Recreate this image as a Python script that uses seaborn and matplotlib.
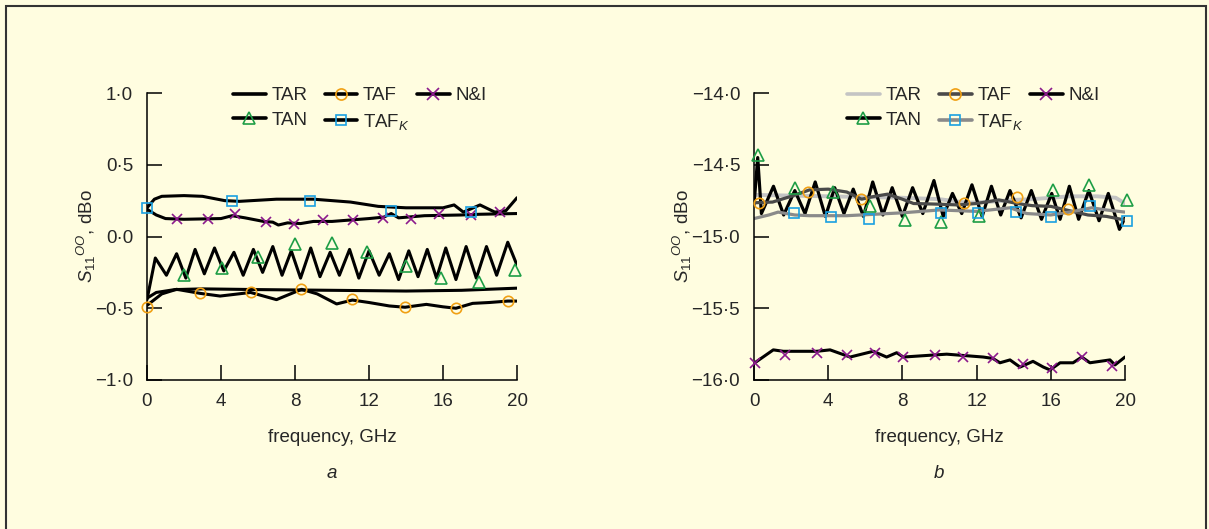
import matplotlib
matplotlib.use("Agg")
import matplotlib.pyplot as plt
from matplotlib.lines import Line2D
from matplotlib.patches import Rectangle
import seaborn as sns

# ---------------- data ----------------
# panel a
a_tar_f = [0, 0.5, 1.5, 3, 6, 10, 14, 17, 20]
a_tar_v = [-0.43, -0.39, -0.37, -0.365, -0.37, -0.375, -0.38, -0.375, -0.36]

a_taf_f = [0, 0.8, 1.6, 2.86, 3.95, 5.6, 7.0, 8.36, 9.2, 10.25, 11.1, 12.0, 13.1, 13.95, 15.1, 16.0, 16.7, 17.6, 18.5, 19.5, 20]
a_taf_v = [-0.48, -0.40, -0.368, -0.396, -0.415, -0.39, -0.44, -0.368, -0.40, -0.47, -0.443, -0.46, -0.484, -0.493, -0.473, -0.49, -0.50, -0.466, -0.46, -0.45, -0.45]
a_taf_mf = [0.02, 2.86, 5.62, 8.34, 11.1, 13.95, 16.7, 19.5]
a_taf_mv = [-0.49, -0.396, -0.389, -0.364, -0.433, -0.493, -0.50, -0.447]

a_ni_f = [0, 0.5, 1, 2, 4, 4.6, 5.3, 6.3, 6.8, 7.1, 7.6, 8.3, 9, 10, 10.5, 12, 12.8, 13.2, 13.6, 15, 17, 18, 20]
a_ni_v = [0.19, 0.15, 0.125, 0.12, 0.125, 0.145, 0.13, 0.105, 0.10, 0.08, 0.095, 0.09, 0.105, 0.105, 0.11, 0.125, 0.135, 0.16, 0.13, 0.145, 0.15, 0.155, 0.16]
a_ni_mf = [1.64, 3.28, 4.76, 6.43, 7.96, 9.53, 11.12, 12.74, 14.25, 15.8, 17.5, 19.08]
a_ni_mv = [0.122, 0.122, 0.157, 0.103, 0.087, 0.115, 0.115, 0.127, 0.122, 0.157, 0.15, 0.173]

a_tan_f = [0, 0.45, 1.05, 1.6, 2.1, 2.6, 3.1, 3.65, 4.15, 4.7, 5.2, 5.75, 6.25, 6.8, 7.3, 7.8, 8.3, 8.85,
           9.35, 9.9, 10.4, 10.95, 11.45, 12.0, 12.55, 13.1, 13.6, 14.15, 14.65, 15.15, 15.65, 16.15, 16.7,
           17.25, 17.8, 18.35, 18.9, 19.5, 20]
a_tan_v = [-0.44, -0.15, -0.27, -0.12, -0.29, -0.09, -0.26, -0.08, -0.24, -0.11, -0.27, -0.09, -0.25, -0.07,
           -0.27, -0.10, -0.29, -0.08, -0.28, -0.11, -0.27, -0.09, -0.29, -0.10, -0.27, -0.12, -0.30, -0.10,
           -0.28, -0.09, -0.29, -0.08, -0.30, -0.07, -0.29, -0.07, -0.27, -0.04, -0.20]
a_tan_mf = [2.0, 4.07, 6.02, 8.0, 9.98, 11.9, 14.0, 15.9, 17.96, 19.9]
a_tan_mv = [-0.268, -0.217, -0.14, -0.054, -0.047, -0.106, -0.203, -0.29, -0.32, -0.233]

a_tafk_f = [0, 0.4, 0.8, 2, 3, 4.2, 5, 7, 9, 11, 12.5, 14, 16, 16.6, 17.1, 18.0, 18.8, 19.4, 20]
a_tafk_v = [0.20, 0.26, 0.28, 0.285, 0.28, 0.25, 0.245, 0.26, 0.26, 0.24, 0.21, 0.20, 0.20, 0.22, 0.17, 0.22, 0.17, 0.18, 0.27]
a_tafk_mf = [0.0, 4.6, 8.8, 13.2, 17.5]
a_tafk_mv = [0.20, 0.25, 0.25, 0.18, 0.17]

# panel b
b_tar_f = [0, 2, 4, 6, 8, 10, 11.5, 12.5, 14, 15, 16, 17, 18.5, 19.5, 20]
b_tar_v = [-14.71, -14.715, -14.72, -14.725, -14.73, -14.74, -14.765, -14.76, -14.745, -14.74, -14.73, -14.72, -14.72, -14.73, -14.77]

b_taf_f = [0, 1, 2, 3, 4, 5, 5.8, 6.5, 7.2, 8, 8.6, 10, 11, 12, 13.2, 14.2, 15, 16, 17, 18, 19, 20]
b_taf_v = [-14.765, -14.76, -14.72, -14.675, -14.67, -14.69, -14.74, -14.72, -14.705, -14.74, -14.77, -14.775,
           -14.78, -14.77, -14.745, -14.77, -14.785, -14.79, -14.82, -14.85, -14.86, -14.885]
b_taf_mf = [0.27, 2.93, 5.77, 11.34, 14.16, 16.94]
b_taf_mv = [-14.77, -14.69, -14.74, -14.764, -14.727, -14.81]

b_ni_f = [0.0, 1.04, 1.58, 3.38, 4.1, 5.18, 6.43, 7.15, 7.69, 8.05, 9.67, 10.39, 12.36, 12.88, 13.26, 13.8,
          14.34, 15.04, 15.6, 15.96, 16.5, 17.2, 17.67, 18.11, 19.19, 19.46, 20.0]
b_ni_v = [-15.884, -15.79, -15.80, -15.80, -15.79, -15.84, -15.80, -15.84, -15.81, -15.84, -15.826, -15.82,
          -15.84, -15.85, -15.88, -15.86, -15.91, -15.87, -15.91, -15.93, -15.88, -15.88, -15.84, -15.88,
          -15.86, -15.895, -15.84]
b_ni_mf = [0.07, 1.69, 3.38, 5.0, 6.52, 8.05, 9.76, 11.28, 12.9, 14.48, 16.05, 17.67, 19.28]
b_ni_mv = [-15.884, -15.826, -15.81, -15.826, -15.81, -15.84, -15.826, -15.84, -15.85, -15.89, -15.918, -15.84, -15.90]

b_tan_f = [0, 0.2, 0.4, 1.05, 1.6, 2.2, 2.75, 3.3, 3.85, 4.35, 4.85, 5.35, 5.9, 6.4, 6.95, 7.45, 8.0, 8.55,
           9.1, 9.7, 10.2, 10.7, 11.2, 11.75, 12.3, 12.8, 13.3, 13.8, 14.4, 14.95, 15.5, 16.05, 16.5, 17.0,
           17.5, 18.05, 18.6, 19.1, 19.7, 20]
b_tan_v = [-14.78, -14.45, -14.84, -14.65, -14.85, -14.68, -14.84, -14.62, -14.86, -14.66, -14.84, -14.67,
           -14.86, -14.62, -14.85, -14.66, -14.86, -14.66, -14.84, -14.61, -14.86, -14.70, -14.84, -14.64,
           -14.86, -14.65, -14.85, -14.68, -14.87, -14.68, -14.88, -14.70, -14.88, -14.65, -14.88, -14.68,
           -14.89, -14.70, -14.95, -14.87]
b_tan_mf = [0.23, 2.21, 4.27, 6.25, 8.14, 10.08, 12.15, 16.1, 18.06, 20.09]
b_tan_mv = [-14.435, -14.664, -14.688, -14.79, -14.885, -14.897, -14.857, -14.676, -14.64, -14.746]

b_tafk_f = [0, 0.8, 1.3, 2.2, 3, 5, 6.5, 8, 10, 12, 13.8, 14.7, 16, 17, 18.2, 19, 20]
b_tafk_v = [-14.875, -14.85, -14.83, -14.85, -14.855, -14.855, -14.845, -14.835, -14.815, -14.825, -14.80,
            -14.84, -14.85, -14.83, -14.80, -14.815, -14.83]
b_tafk_mf = [2.17, 4.15, 6.22, 10.08, 12.09, 14.1, 16.0, 18.1, 20.1]
b_tafk_mv = [-14.834, -14.862, -14.876, -14.834, -14.834, -14.827, -14.862, -14.79, -14.89]

xticks = [0, 4, 8, 12, 16, 20]
a_yticks = [-1.0, -0.5, 0.0, 0.5, 1.0]
a_ylabels = ["\u22121\u00b70", "\u22120\u00b75", "0\u00b70", "0\u00b75", "1\u00b70"]
b_yticks = [-16.0, -15.5, -15.0, -14.5, -14.0]
b_ylabels = ["\u221216\u00b70", "\u221215\u00b75", "\u221215\u00b70", "\u221214\u00b75", "\u221214\u00b70"]

# ---------------- style ----------------
bg = "#FFFDE0"
orange = "#F0A014"
purple = "#8C1A8C"
green = "#1E9E46"
blue = "#1AA0E0"
light = "#C4C4C4"
dark = "#4A4A4A"
mid = "#8A8A8A"
fs = 13.5

sns.set_style("ticks")
plt.rcParams["font.family"] = ["Liberation Sans", "DejaVu Sans"]
plt.rcParams["mathtext.fontset"] = "custom"
plt.rcParams["mathtext.rm"] = "Liberation Sans"
plt.rcParams["mathtext.it"] = "Liberation Sans:italic"
plt.rcParams["font.size"] = fs

W, H = 1209, 529
fig = plt.figure(figsize=(W / 100, H / 100), dpi=100, facecolor=bg)
fig.patches.append(Rectangle((6 / W, -0.1), 1200 / W, 1.1 - 6 / H, transform=fig.transFigure,
                             fill=False, edgecolor="#333333", linewidth=1.5))

axA = fig.add_axes([147 / W, 1 - 380 / H, 370 / W, 287 / H])
axB = fig.add_axes([754 / W, 1 - 380 / H, 371 / W, 287 / H])

lw = 2.2


def curve(ax, f, v, color, width=lw):
    sns.lineplot(x=f, y=v, ax=ax, color=color, linewidth=width, estimator=None, sort=False)


def marks(ax, f, v, marker, color, size=7.5):
    sns.lineplot(x=f, y=v, ax=ax, marker=marker, linestyle="", markersize=size, markeredgewidth=1.2,
                 markerfacecolor="none", markeredgecolor=color, color=color, estimator=None, sort=False,
                 clip_on=False, zorder=5)


# panel a
curve(axA, a_tar_f, a_tar_v, "black")
curve(axA, a_taf_f, a_taf_v, "black")
curve(axA, a_ni_f, a_ni_v, "black")
curve(axA, a_tan_f, a_tan_v, "black")
curve(axA, a_tafk_f, a_tafk_v, "black")
marks(axA, a_taf_mf, a_taf_mv, "o", orange)
marks(axA, a_ni_mf, a_ni_mv, "x", purple)
marks(axA, a_tan_mf, a_tan_mv, "^", green, 8)
marks(axA, a_tafk_mf, a_tafk_mv, "s", blue, 7)

# panel b
curve(axB, b_tar_f, b_tar_v, light, 2.8)
curve(axB, b_tan_f, b_tan_v, "black", 2.3)
curve(axB, b_taf_f, b_taf_v, dark, 2.3)
curve(axB, b_tafk_f, b_tafk_v, mid, 2.3)
curve(axB, b_ni_f, b_ni_v, "black", 2.2)
marks(axB, b_taf_mf, b_taf_mv, "o", orange)
marks(axB, b_ni_mf, b_ni_mv, "x", purple)
marks(axB, b_tan_mf, b_tan_mv, "^", green, 8)
marks(axB, b_tafk_mf, b_tafk_mv, "s", blue, 7)


def handle(color, marker=None, mec=None, ms=8):
    if marker is None:
        return Line2D([], [], color=color, lw=2.6)
    return Line2D([], [], color=color, lw=2.6, marker=marker, mec=mec, mfc="none", ms=ms, mew=1.2)


leg_kw = dict(loc="upper left", frameon=False, fontsize=fs, handlelength=1.75, handletextpad=0.3,
              borderpad=0, borderaxespad=0, labelspacing=0.41)

for ax, yt, yl, lim, cols, lx, lx3 in [
    (axA, a_yticks, a_ylabels, (-1.0, 1.0), ("black",) * 5, 0.2324, 0.7297),
    (axB, b_yticks, b_ylabels, (-16.0, -14.0), (light, dark, "black", "black", mid), 0.2507, 0.744),
]:
    ax.set_facecolor(bg)
    ax.set_xlim(0, 20)
    ax.set_ylim(*lim)
    ax.set_xticks(xticks)
    ax.set_xticklabels([str(t) for t in xticks])
    ax.set_yticks(yt)
    ax.set_yticklabels(yl)
    for s in ["top", "right"]:
        ax.spines[s].set_visible(False)
    for s in ["left", "bottom"]:
        ax.spines[s].set_linewidth(1.1)
        ax.spines[s].set_color("black")
    ax.tick_params(axis="both", direction="in", length=11, width=1.1, color="black", labelsize=fs)
    ax.tick_params(axis="y", pad=10)
    ax.tick_params(axis="x", pad=9)
    ax.set_xlabel("frequency, GHz", fontsize=fs, labelpad=14)
    ax.set_ylabel("$S_{11}{}^{OO}$, dBo", fontsize=fs, labelpad=-2)
    ax.grid(False)

    c_tar, c_taf, c_ni, c_tan, c_tafk = cols
    h12 = [handle(c_tar), handle(c_tan, "^", green, 8.5),
           handle(c_taf, "o", orange, 8), handle(c_tafk, "s", blue, 7.5)]
    l12 = ["TAR", "TAN", "TAF", "TAF$_{\\mathit{K}}$"]
    leg1 = ax.legend(h12, l12, ncol=2, bbox_to_anchor=(lx, 1.021), columnspacing=0.92, **leg_kw)
    ax.add_artist(leg1)
    ax.legend([handle(c_ni, "x", purple, 8)], ["N&I"], bbox_to_anchor=(lx3, 1.021), **leg_kw)

fig.text(332 / W, 1 - 473 / H, "a", ha="center", va="center", fontsize=fs, style="italic")
fig.text(939 / W, 1 - 473 / H, "b", ha="center", va="center", fontsize=fs, style="italic")

fig.savefig("out.png", dpi=100, facecolor=bg)
